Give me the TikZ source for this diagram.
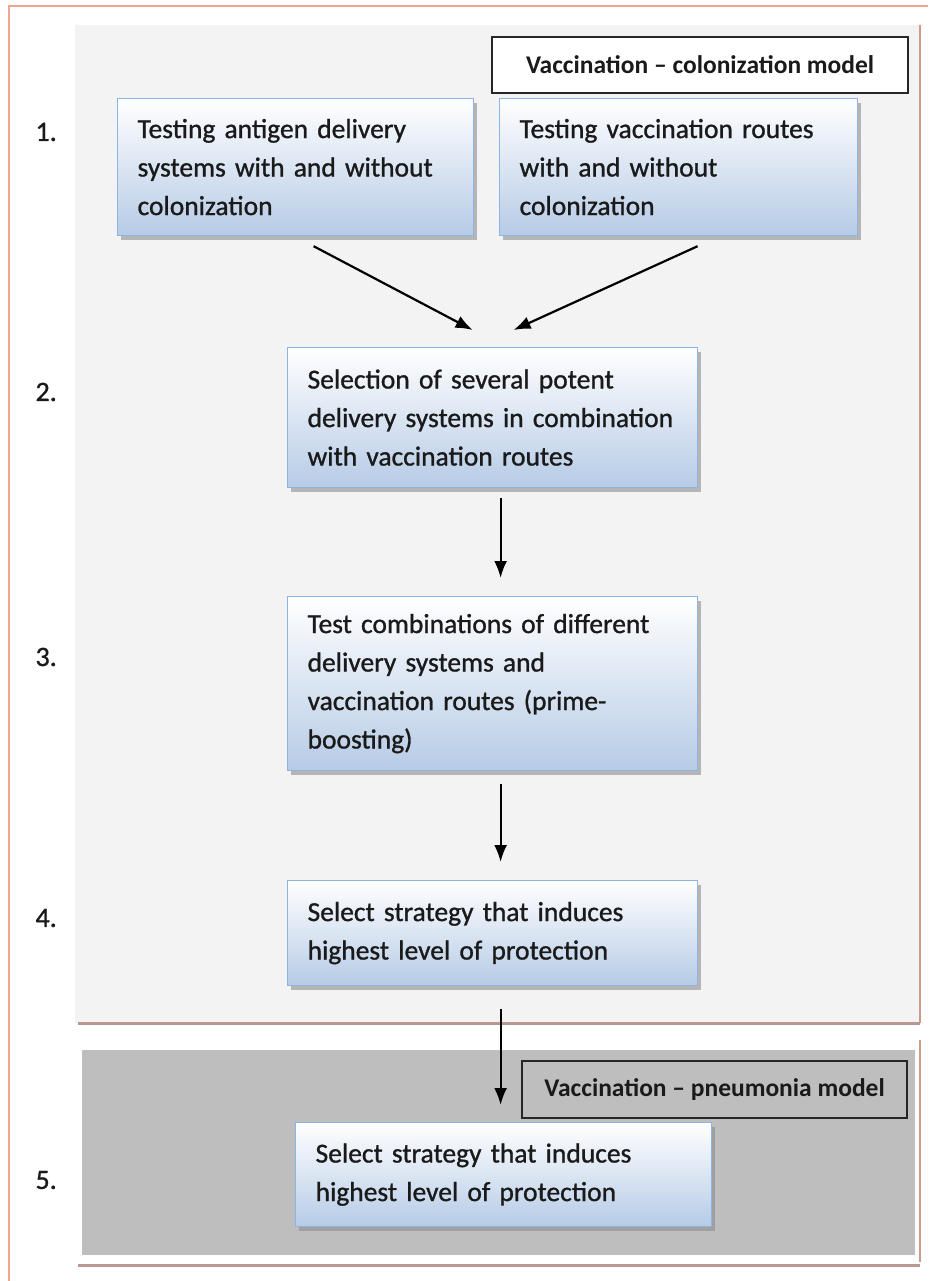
\documentclass[tikz,border=0pt]{standalone}
\usepackage{fontspec}
\setmainfont{Carlito}
\newfontfamily\semib[FakeBold=1.0]{Carlito}
\usetikzlibrary{arrows.meta,shadows,calc}
\definecolor{frame}{HTML}{F2A58E}
\definecolor{panel}{HTML}{F3F3F4}
\definecolor{panelgray}{HTML}{BEBEBE}
\definecolor{edge}{HTML}{B89890}
\definecolor{boxline}{HTML}{8EB4E3}
\definecolor{boxbot}{HTML}{B6CBE6}
\definecolor{ink}{HTML}{1A1A1A}
\tikzset{
  stepbox/.style={draw=boxline, line width=1.2pt, top color=white, bottom color=boxbot,
    anchor=north west, inner sep=0pt, align=left, text=ink,
    font=\fontsize{27.5}{38.5}\selectfont\semib,
    drop shadow={shadow xshift=3pt, shadow yshift=-4pt, fill=black!45, opacity=0.6}},
  titlebox/.style={draw=black!85, line width=2.2pt, anchor=north west, inner sep=0pt,
    text=ink, font=\fontsize{25.5}{28}\selectfont\bfseries},
  numlbl/.style={text=ink, font=\fontsize{28}{30}\selectfont\semib, anchor=west},
  arr/.style={-{Latex[length=17pt,width=13pt]}, line width=2.2pt, black}
}
\begin{document}
\begin{tikzpicture}[x=1pt,y=-1pt]
\useasboundingbox (0,0) rectangle (928,1281);
\fill[white] (0,0) rectangle (928,1281);
% outer frame
\draw[frame, line width=2pt] (9,1281) -- (9,6) -- (928,6);
% top panel
\fill[panel] (75,25) rectangle (920,1023);
\draw[frame!70!gray, line width=1.5pt] (920,25) -- (920,1023);
\draw[edge, line width=3pt] (78,1023) -- (920,1023);
% bottom panel
\fill[white] (78,1040) rectangle (920,1262);
\fill[panelgray] (82,1050) rectangle (915,1255);
\draw[frame!70!gray, line width=1.5pt] (920,1040) -- (920,1262);
\draw[edge, line width=3pt] (78,1265) -- (920,1265);

% titles
\node[titlebox, minimum width=416, minimum height=56, fill=white] (t1) at (491,36) {Vaccination -- colonization model};
\node[titlebox, minimum width=385, minimum height=57, fill=panelgray] (t2) at (521,1060) {Vaccination -- pneumonia model};

% boxes
\node[stepbox, minimum width=356, minimum height=137, text width=316] (a) at (117,98)
  {Testing antigen delivery\\systems with and without\\colonization};
\node[stepbox, minimum width=358, minimum height=137, text width=318] (b) at (499,98)
  {Testing vaccination routes\\with and without\\colonization};
\node[stepbox, minimum width=410, minimum height=140, text width=370] (c) at (287,347)
  {Selection of several potent\\delivery systems in combination\\with vaccination routes};
\node[stepbox, minimum width=410, minimum height=174, text width=370] (d) at (287,596)
  {Test combinations of different\\delivery systems and\\vaccination routes (prime-\\boosting)};
\node[stepbox, minimum width=410, minimum height=105, text width=370] (e) at (287,880)
  {Select strategy that induces\\highest level of protection};
\node[stepbox, minimum width=416, minimum height=104, text width=376] (g) at (295,1122)
  {Select strategy that induces\\highest level of protection};

% step numbers
\node[numlbl] (n1) at (32,132) {1.};
\node[numlbl] (n2) at (32,392) {2.};
\node[numlbl] (n3) at (32,657) {3.};
\node[numlbl] (n4) at (32,918) {4.};
\node[numlbl] (n5) at (32,1180) {5.};

% arrows
\draw[arr] ([xshift=18pt,yshift=-10pt]a.south) -- ([xshift=-20pt,yshift=17pt]c.north);
\draw[arr] ([xshift=19pt,yshift=-10pt]b.south) -- ([xshift=21pt,yshift=17pt]c.north);
\draw[arr] ([xshift=8pt,yshift=-10pt]c.south) -- ([xshift=8pt,yshift=18pt]d.north);
\draw[arr] ([xshift=8pt,yshift=-13pt]d.south) -- ([xshift=8pt,yshift=18pt]e.north);
\draw[arr] ([xshift=8pt,yshift=-23pt]e.south) -- ([xshift=-3pt,yshift=17pt]g.north);
\end{tikzpicture}
\end{document}
